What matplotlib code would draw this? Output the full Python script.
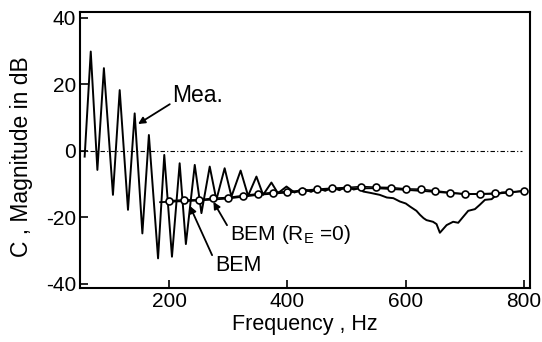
import matplotlib
matplotlib.use("Agg")
import matplotlib.pyplot as plt

plt.rcParams['font.family'] = ['Liberation Sans', 'DejaVu Sans']
plt.rcParams['axes.unicode_minus'] = False

# Measured curve (Mea.)
mea_freq = [57.5, 67.8, 79, 90, 105.3, 116.7, 130.7, 142, 155, 166, 181.5, 192, 205, 218,
            228.5, 243.5, 254.8, 268.8, 280, 294, 305.5, 321, 333.6, 347.7, 359, 373, 384,
            398.5, 412, 426, 440, 452, 464, 475, 488, 500, 512, 522, 528, 540, 556, 568,
            579, 590, 600, 607, 618, 624, 630, 635, 646, 652, 657.6, 669, 680, 688.6, 697,
            705.5, 716.8, 725, 733.8, 745, 753.5, 762, 775]
mea_db = [-1.7, 29.9, -5.7, 24.9, -13.2, 18.3, -17.7, 11.3, -24.8, 4.8, -32.3, -1.2, -31.8, -3.7,
          -28.0, -4.2, -18.7, -4.7, -14.7, -5.2, -13.7, -5.9, -13.5, -7.7, -13.2, -9.5, -12.7,
          -10.7, -12.5, -11.3, -12.3, -11.2, -12.0, -10.9, -11.8, -10.6, -11.6, -11.2, -12.2, -12.6, -13.2, -14.0,
          -14.2, -15.2, -15.8, -16.7, -18.0, -19.2, -20.2, -20.8, -21.3, -22.0, -24.6, -22.3, -21.3, -21.6, -19.8,
          -18.0, -17.5, -16.2, -14.7, -14.5, -13.2, -12.5, -12.4]

# BEM (solid line)
bem_freq = [185, 250, 300, 350, 400, 450, 500, 550, 600, 650, 700, 750, 800]
bem_db = [-15.4, -14.9, -14.3, -13.2, -12.5, -11.8, -11.3, -11.2, -11.7, -12.3, -13.0, -12.9, -12.1]

# BEM (R_E = 0) with circles
bem0_freq = [200, 225, 250, 275, 300, 325, 350, 375, 400, 425, 450, 475, 500, 525, 550, 575,
             600, 625, 650, 675, 700, 725, 750, 775, 800]
bem0_db = [-15.0, -14.7, -14.7, -14.2, -14.0, -13.4, -12.9, -12.5, -12.2, -11.9, -11.5, -11.2,
           -11.0, -10.7, -10.9, -11.0, -11.4, -11.5, -12.0, -12.5, -12.9, -12.9, -12.7, -12.4, -11.9]

xticks = [200, 400, 600, 800]
yticks = [-40, -20, 0, 20, 40]

fig = plt.figure(figsize=(5.42, 3.42), dpi=100)
ax = fig.add_axes([0.148, 0.159, 0.830, 0.807])

ax.axhline(0, xmin=0, xmax=(797 - 50) / (810 - 50), color='black', lw=0.8,
           linestyle=(0, (4, 2, 1, 2)))
ax.plot(mea_freq, mea_db, color='black', lw=1.4)
ax.plot(bem_freq, bem_db, color='black', lw=1.3)
ax.plot(bem0_freq, bem0_db, color='black', lw=1.1, marker='o', markersize=5,
        markerfacecolor='white', markeredgecolor='black', markeredgewidth=1.2)

ax.set_xlim(50, 810)
ax.set_ylim(-41.1, 41.9)
ax.set_xticks(xticks)
ax.set_yticks(yticks)
ax.tick_params(direction='in', length=6, width=1.2, labelsize=15, pad=3,
               top=False, right=False)
for s in ax.spines.values():
    s.set_linewidth(1.5)

ax.set_xlabel('Frequency , Hz', fontsize=15.5, labelpad=2)
ax.set_ylabel('C , Magnitude in dB', fontsize=16.5)
ax.yaxis.set_label_coords(-0.105, 0.474)

arrow_kw = dict(arrowstyle='-|>', color='black', lw=1.3,
                mutation_scale=10, shrinkA=0, shrinkB=0)
ax.annotate('Mea.', xy=(147.7, 8.1), xytext=(206, 14.7), fontsize=16.5,
            ha='left', va='baseline',
            arrowprops=dict(relpos=(0, 0.2), **arrow_kw))
ax.annotate('BEM (R$_\\mathregular{E}$ =0)', xy=(275, -15.3), xytext=(302.7, -26.8), fontsize=15,
            ha='left', va='baseline',
            arrowprops=dict(relpos=(0, 0.7), **arrow_kw))
ax.annotate('BEM', xy=(235, -16.5), xytext=(277.5, -36.1), fontsize=15.5,
            ha='left', va='baseline',
            arrowprops=dict(relpos=(0, 0.7), **arrow_kw))

fig.savefig('out.png', dpi=100)
